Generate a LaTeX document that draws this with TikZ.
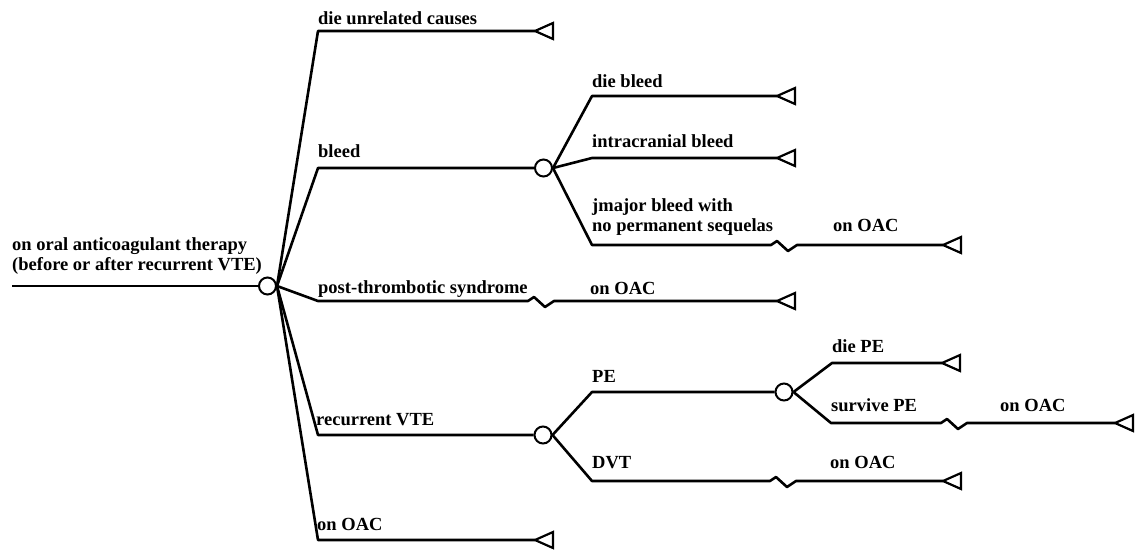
\documentclass[tikz,border=0pt]{standalone}
\usepackage{fontspec}
\setmainfont{Liberation Serif}
\newcommand\termtri[1]{\draw[termtri] (#1) -- ++(18,-8) -- ++(0,16) -- cycle;}
\begin{document}
\begin{tikzpicture}[x=1pt,y=-1pt,
  lbl/.style={anchor=base west, inner sep=0pt, font=\fontsize{18.5}{20}\selectfont\bfseries},
  chance/.style={circle, draw, line width=2pt, minimum size=17pt, inner sep=0pt, fill=white},
  branch/.style={line width=2.6pt, line join=round},
  termtri/.style={line width=2.2pt, line join=miter}]
\useasboundingbox (0,0) rectangle (1137,550);
% chance nodes
\node[chance] (c0) at (267.5,286) {};
\node[chance] (cb) at (543.5,168) {};
\node[chance] (cr) at (543,435) {};
\node[chance] (cp) at (784,392) {};
% root
\coordinate (r0) at (12,286);
\draw[branch] (r0) -- (c0.west);
\node[lbl, align=left] (root) at (12,270) {on oral anticoagulant therapy\\(before or after recurrent VTE)};
% first level
\coordinate (k1) at (318,31);  \coordinate (t1) at (535,31);
\coordinate (k2) at (318,168);
\coordinate (k3) at (318,301); \coordinate (j3) at (528,301); \coordinate (t3) at (777,301);
\coordinate (k4) at (318,435);
\coordinate (k5) at (318,540); \coordinate (t5) at (535,540);
\draw[branch] (c0.east) -- (k1) -- (t1);
\draw[branch] (c0.east) -- (k2) -- (cb.west);
\draw[branch] (c0.east) -- (k3) -- (j3) -- ++(6,-4) -- ++(11,10) -- ++(9,-6) -- (t3);
\draw[branch] (c0.east) -- (k4) -- (cr.west);
\draw[branch] (c0.east) -- (k5) -- (t5);
\termtri{t1} \termtri{t3} \termtri{t5}
\node[lbl] (l1) at (318,24) {die unrelated causes};
\node[lbl] (l2) at (318,157) {bleed};
\node[lbl] (l3) at (318,293) {post-thrombotic syndrome};
\node[lbl] (l3b) at (590,294) {on OAC};
\node[lbl] (l4) at (316,425) {recurrent VTE};
\node[lbl] (l5) at (317,530) {on OAC};
% bleed subtree
\coordinate (b1) at (592,96);  \coordinate (bt1) at (777,96);
\coordinate (b2) at (592,158); \coordinate (bt2) at (777,158);
\coordinate (b3) at (592,245); \coordinate (bj3) at (771,245); \coordinate (bt3) at (943,245);
\draw[branch] (cb.east) -- (b1) -- (bt1);
\draw[branch] (cb.east) -- (b2) -- (bt2);
\draw[branch] (cb.east) -- (b3) -- (bj3) -- ++(6,-4) -- ++(11,10) -- ++(9,-6) -- (bt3);
\termtri{bt1} \termtri{bt2} \termtri{bt3}
\node[lbl] (lb1) at (592,87) {die bleed};
\node[lbl] (lb2) at (592,147) {intracranial bleed};
\node[lbl, align=left] (lb3) at (592,231) {jmajor bleed with\\no permanent sequelas};
\node[lbl] (lb3b) at (833,231) {on OAC};
% recurrent VTE subtree
\coordinate (p1) at (592,392);
\coordinate (p2) at (592,481); \coordinate (pj2) at (770,481); \coordinate (pt2) at (943,481);
\draw[branch] (cr.east) -- (p1) -- (cp.west);
\draw[branch] (cr.east) -- (p2) -- (pj2) -- ++(6,-4) -- ++(11,10) -- ++(9,-6) -- (pt2);
\termtri{pt2}
\node[lbl] (lp1) at (592,382) {PE};
\node[lbl] (lp2) at (592,468) {DVT};
\node[lbl] (lp2b) at (830,468) {on OAC};
% PE subtree
\coordinate (q1) at (832,363); \coordinate (qt1) at (942,363);
\coordinate (q2) at (831,423); \coordinate (qj2) at (941,423); \coordinate (qt2) at (1115,423);
\draw[branch] (cp.east) -- (q1) -- (qt1);
\draw[branch] (cp.east) -- (q2) -- (qj2) -- ++(6,-4) -- ++(11,10) -- ++(9,-6) -- (qt2);
\termtri{qt1} \termtri{qt2}
\node[lbl] (lq1) at (832,352) {die PE};
\node[lbl] (lq2) at (831,411) {survive PE};
\node[lbl] (lq2b) at (1000,411) {on OAC};
\end{tikzpicture}
\end{document}
